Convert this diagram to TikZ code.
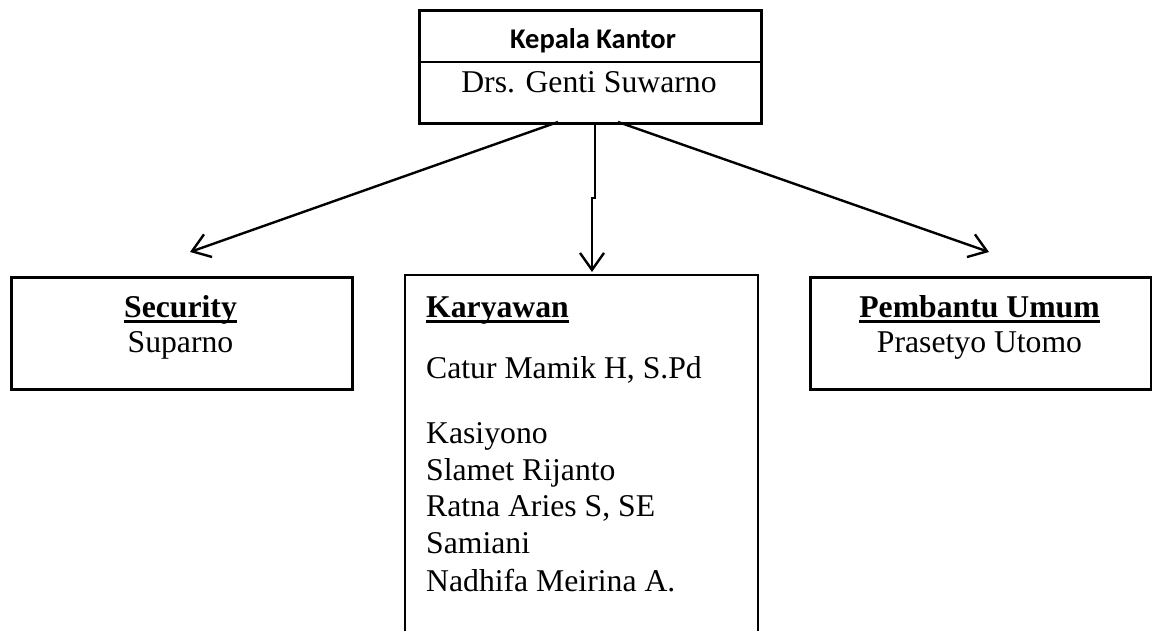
\documentclass[tikz,border=0pt]{standalone}
\usepackage{fontspec}
\setmainfont{Liberation Serif}
\newfontfamily\calfont{Carlito}
\usetikzlibrary{arrows.meta}
\newcommand\undl[1]{\setbox0\hbox{#1}\rlap{\rule[-6pt]{\wd0}{2.8pt}}\box0}
\begin{document}
\begin{tikzpicture}[x=1pt,y=-1pt,
  box/.style={draw,line width=2.6pt,rectangle,inner sep=0pt,anchor=north west},
  txt/.style={inner sep=0pt,font=\fontsize{31.7}{36.7}\selectfont},
  conn/.style={line width=2.4pt,-{Straight Barb[length=17pt,width=24pt,line width=2.4pt]}}]
\useasboundingbox (0,0) rectangle (1152,630);
% top box
\node[box,minimum width=342pt,minimum height=113pt] (top) at (418,9) {};
\coordinate (divl) at (418,62);
\coordinate (divr) at (762,62);
\draw[line width=2.6pt] (divl) -- (divr);
\node[inner sep=0pt,anchor=base,font=\calfont\bfseries\fontsize{28.5}{32}\selectfont] (kk) at (593,48) {Kepala Kantor};
\node[txt,anchor=base] (drs) at (589,92) {Drs. Genti Suwarno};
% security
\node[box,minimum width=341pt,minimum height=112pt] (sec) at (10,276) {};
\node[txt,anchor=base] (sect) at (180.5,317) {\bfseries\undl{Security}};
\node[txt,anchor=base] (secn) at (180.5,352) {Suparno};
% pembantu
\node[box,minimum width=341pt,minimum height=112pt] (pem) at (809,276) {};
\node[txt,anchor=base] (pemt) at (979.5,317) {\bfseries\undl{Pembantu Umum}};
\node[txt,anchor=base] (pemn) at (979.5,352) {Prasetyo Utomo};
% karyawan (open bottom)
\coordinate (kbl) at (405,634);
\coordinate (ktl) at (405,275);
\coordinate (ktr) at (758,275);
\coordinate (kbr) at (758,634);
\draw[line width=2.6pt] (kbl) -- (ktl) -- (ktr) -- (kbr);
\node[txt,anchor=base west] (kt) at (426,317) {\bfseries\undl{Karyawan}};
\node[txt,anchor=base west] (k1) at (426,378) {Catur Mamik H, S.Pd};
\node[txt,anchor=base west] (k2) at (426,443) {Kasiyono};
\node[txt,anchor=base west] (k3) at (426,480) {Slamet Rijanto};
\node[txt,anchor=base west] (k4) at (426,516.7) {Ratna Aries S, SE};
\node[txt,anchor=base west] (k5) at (426,553.3) {Samiani};
\node[txt,anchor=base west] (k6) at (426,591.7) {Nadhifa Meirina A.};
% connectors
\coordinate (sl) at (558,122);
\coordinate (sm) at (595,122);
\coordinate (sr) at (618,122);
\coordinate (el) at (190,252);
\coordinate (er) at (989,252);
\coordinate (j1) at (595,198);
\coordinate (j2) at (592,198);
\coordinate (em) at (592,272);
\draw[conn] (sl) -- (el);
\draw[conn] (sr) -- (er);
\draw[conn] (sm) -- (j1) -- (j2) -- (em);
\end{tikzpicture}
\end{document}
